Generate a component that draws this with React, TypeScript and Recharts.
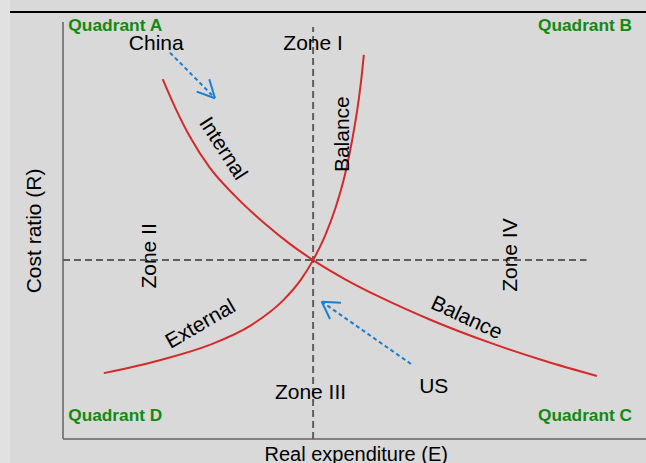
import React from 'react';
import { LineChart, Line, XAxis, YAxis, ReferenceLine, ReferenceDot } from 'recharts';

// Internal balance curve (downward sloping)
const internalBalance = [
  { x: 17.1, y: 86.3 }, { x: 19.2, y: 79.6 }, { x: 21.8, y: 72.4 }, { x: 25.2, y: 65.0 },
  { x: 29.5, y: 58.3 }, { x: 34.65, y: 51.6 }, { x: 38.9, y: 46.8 }, { x: 42.9, y: 42.9 },
  { x: 48.4, y: 38.3 }, { x: 54.4, y: 34.0 }, { x: 63.0, y: 28.6 }, { x: 73.2, y: 23.1 },
  { x: 82.7, y: 18.7 }, { x: 91.6, y: 15.1 },
];

// External balance curve (upward sloping)
const externalBalance = [
  { x: 7.0, y: 15.8 }, { x: 16.6, y: 18.9 }, { x: 25.05, y: 22.5 }, { x: 32.3, y: 27.3 },
  { x: 37.8, y: 33.3 }, { x: 40.75, y: 38.1 }, { x: 42.9, y: 42.9 }, { x: 45.0, y: 48.9 },
  { x: 46.9, y: 56.1 }, { x: 48.35, y: 63.3 }, { x: 49.6, y: 71.7 }, { x: 50.6, y: 80.1 },
  { x: 51.25, y: 87.3 }, { x: 51.6, y: 92.1 },
];

const crossing = { x: 42.9, y: 42.9 };

const quadrantLabels = [
  { text: 'Quadrant A', x: 0.9, y: 99.2, anchor: 'start' },
  { text: 'Quadrant B', x: 97.6, y: 99.2, anchor: 'end' },
  { text: 'Quadrant D', x: 0.9, y: 5.8, anchor: 'start' },
  { text: 'Quadrant C', x: 97.6, y: 5.8, anchor: 'end' },
];

const textLabels = [
  { text: 'China', x: 16.0, y: 95.1, angle: 0 },
  { text: 'Zone I', x: 42.9, y: 95.1, angle: 0 },
  { text: 'Zone III', x: 42.45, y: 11.3, angle: 0 },
  { text: 'US', x: 63.6, y: 12.95, angle: 0 },
  { text: 'Zone II', x: 14.6, y: 43.9, angle: -90 },
  { text: 'Zone IV', x: 76.6, y: 44.1, angle: -90 },
  { text: 'Balance', x: 47.7, y: 73.1, angle: -90 },
  { text: 'Internal', x: 27.6, y: 69.8, angle: 57 },
  { text: 'External', x: 23.5, y: 27.8, angle: -30 },
  { text: 'Balance', x: 69.3, y: 29.3, angle: 25 },
];

const axisTitles = [
  { text: 'Cost ratio (R)', x: -5.0, y: 49.9, angle: -90 },
  { text: 'Real expenditure (E)', x: 50.3, y: -3.6, angle: 0 },
];

const arrows = [
  {
    from: { x: 18.35, y: 92.66 }, to: { x: 26.07, y: 81.73 },
    head1: { x: 22.93, y: 83.31 }, head2: { x: 25.09, y: 86.26 },
  },
  {
    from: { x: 59.69, y: 17.99 }, to: { x: 44.37, y: 32.93 },
    head1: { x: 47.68, y: 32.69 }, head2: { x: 45.8, y: 28.78 },
  },
];

const FONT = '"Liberation Sans", Arial, sans-serif';
const RED = '#d42a2a';
const BLUE = '#1a7fd2';
const GREEN = '#118a11';
const DASH_GREY = '#5f5f5f';
const AXIS_GREY = '#808080';

const textShape = (t: any, size: number, opts: any = {}) => (props: any) => {
  const { cx, cy } = props;
  return (
    <text
      x={0}
      y={0}
      dy="0.36em"
      transform={`translate(${cx},${cy}) rotate(${t.angle || 0})`}
      textAnchor={opts.anchor || 'middle'}
      fontFamily={FONT}
      fontSize={size}
      fontWeight={opts.bold ? 700 : 400}
      fill={opts.color || '#000'}
      textLength={opts.textLength}
      lengthAdjust={opts.textLength ? 'spacingAndGlyphs' : undefined}
    >
      {t.text}
    </text>
  );
};

export default function App() {
  return (
    <div style={{ position: 'absolute', left: 0, top: 0, width: 646, height: 463, background: '#d9d9d9', overflow: 'hidden' }}>
      <div style={{ position: 'absolute', left: 0, top: 0, width: 10, height: 463, background: '#e1e1e1' }} />
      <div style={{ position: 'absolute', left: 10, top: 11, width: 636, height: 2, background: '#000' }} />
      <LineChart width={646} height={463} margin={{ top: 22, right: 0, bottom: 24, left: 63 }}>
        <XAxis type="number" dataKey="x" domain={[0, 100]} hide allowDataOverflow />
        <YAxis type="number" dataKey="y" domain={[0, 100]} hide allowDataOverflow />

        {/* axes */}
        <ReferenceLine segment={[{ x: 0, y: 0 }, { x: 0, y: 100 }]} stroke={AXIS_GREY} strokeWidth={2} ifOverflow="visible" />
        <ReferenceLine segment={[{ x: 0, y: 0 }, { x: 100, y: 0 }]} stroke={AXIS_GREY} strokeWidth={2} ifOverflow="visible" />

        {/* dashed zone dividers */}
        <ReferenceLine segment={[{ x: crossing.x, y: 0 }, { x: crossing.x, y: 98.8 }]} stroke={DASH_GREY} strokeWidth={2} strokeDasharray="7 4" ifOverflow="visible" />
        <ReferenceLine segment={[{ x: 0, y: crossing.y }, { x: 89.8, y: crossing.y }]} stroke={DASH_GREY} strokeWidth={2} strokeDasharray="7 4" ifOverflow="visible" />

        <Line data={internalBalance} dataKey="y" type="monotone" stroke={RED} strokeWidth={2} dot={false} activeDot={false} isAnimationActive={false} />
        <Line data={externalBalance} dataKey="y" type="monotone" stroke={RED} strokeWidth={2} dot={false} activeDot={false} isAnimationActive={false} />

        {/* arrows */}
        {arrows.map((a, i) => (
          <ReferenceLine key={`s${i}`} segment={[a.from, a.to]} stroke={BLUE} strokeWidth={2} strokeDasharray="4 3" ifOverflow="visible" />
        ))}
        {arrows.map((a, i) => (
          <ReferenceLine key={`h1${i}`} segment={[a.head1, a.to]} stroke={BLUE} strokeWidth={2} ifOverflow="visible" />
        ))}
        {arrows.map((a, i) => (
          <ReferenceLine key={`h2${i}`} segment={[a.head2, a.to]} stroke={BLUE} strokeWidth={2} ifOverflow="visible" />
        ))}

        {quadrantLabels.map((q, i) => (
          <ReferenceDot key={`q${i}`} x={q.x} y={q.y} r={1} ifOverflow="visible"
            shape={textShape(q, 17, { bold: true, color: GREEN, anchor: q.anchor, textLength: 94 })} />
        ))}
        {textLabels.map((t, i) => (
          <ReferenceDot key={`t${i}`} x={t.x} y={t.y} r={1} ifOverflow="visible" shape={textShape(t, 21)} />
        ))}
        {axisTitles.map((t, i) => (
          <ReferenceDot key={`a${i}`} x={t.x} y={t.y} r={1} ifOverflow="visible" shape={textShape(t, i === 0 ? 21 : 20)} />
        ))}
      </LineChart>
    </div>
  );
}
